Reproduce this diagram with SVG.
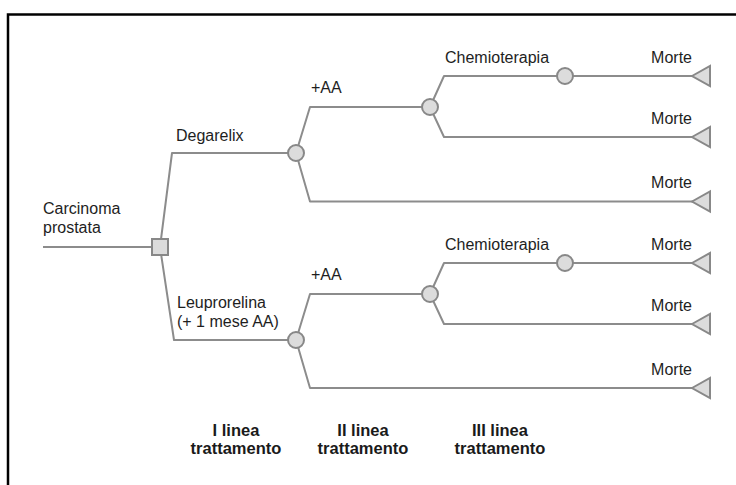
<svg xmlns="http://www.w3.org/2000/svg" width="736" height="485" viewBox="0 0 736 485">
  <style>
    .edge { fill: none; stroke: #8c8c8c; stroke-width: 2; stroke-linejoin: round; }
    .chance { fill: #dcdcdc; stroke: #888; stroke-width: 2; }
    .decision { fill: #dcdcdc; stroke: #888; stroke-width: 2; }
    .terminal { fill: #dcdcdc; stroke: #888; stroke-width: 2; stroke-linejoin: miter; }
    .lbl { font-family: "Liberation Sans", Arial, sans-serif; font-size: 16px; fill: #1e1e1e; }
    .end { text-anchor: end; }
    .axis { font-family: "Liberation Sans", Arial, sans-serif; font-size: 16.5px; font-weight: bold; fill: #1a1a1a; text-anchor: middle; }
  </style>
  <defs>
    <polygon id="tri" class="terminal" points="0,0 18,-10 18,10"/>
  </defs>

  <rect width="736" height="485" fill="#fff"/>
  <!-- frame: only top and left edges fall inside the view -->
  <path d="M8,490 V14.5 H740" fill="none" stroke="#000" stroke-width="2.5"/>

  <!-- connectors -->
  <g id="connectors">
    <path class="edge" d="M43,247 H160"/>
    <!-- Degarelix branch -->
    <path class="edge" d="M160,247 L172,153 H296"/>
    <path class="edge" d="M296,153 L310,107 H430"/>
    <path class="edge" d="M296,153 L310,201.5 H694"/>
    <path class="edge" d="M430,107 L444,76 H694"/>
    <path class="edge" d="M430,107 L444,137 H694"/>
    <!-- Leuprorelina branch -->
    <path class="edge" d="M160,247 L174,340 H296"/>
    <path class="edge" d="M296,340 L310,294 H430"/>
    <path class="edge" d="M296,340 L310,388 H694"/>
    <path class="edge" d="M430,294 L444,263 H694"/>
    <path class="edge" d="M430,294 L444,324 H694"/>
  </g>

  <!-- root -->
  <g id="root">
    <text class="lbl" x="43" y="214">Carcinoma</text>
    <text class="lbl" x="43" y="233">prostata</text>
    <rect class="decision" x="152" y="239" width="16" height="16"/>
  </g>

  <!-- first line: Degarelix -->
  <g id="degarelix">
    <text class="lbl" x="176" y="141">Degarelix</text>
    <circle class="chance" cx="296" cy="153" r="8"/>
  </g>
  <g id="deg-aa">
    <text class="lbl" x="311" y="93">+AA</text>
    <circle class="chance" cx="430" cy="107" r="8"/>
  </g>
  <g id="deg-chemio">
    <text class="lbl" x="445" y="63">Chemioterapia</text>
    <circle class="chance" cx="565" cy="76" r="8"/>
  </g>
  <g id="deg-morte-1">
    <text class="lbl end" x="692" y="63">Morte</text>
    <use href="#tri" x="692" y="76"/>
  </g>
  <g id="deg-morte-2">
    <text class="lbl end" x="692" y="124">Morte</text>
    <use href="#tri" x="692" y="137"/>
  </g>
  <g id="deg-morte-3">
    <text class="lbl end" x="692" y="188">Morte</text>
    <use href="#tri" x="692" y="201.5"/>
  </g>

  <!-- first line: Leuprorelina -->
  <g id="leuprorelina">
    <text class="lbl" x="177" y="308">Leuprorelina</text>
    <text class="lbl" x="177" y="327">(+ 1 mese AA)</text>
    <circle class="chance" cx="296" cy="340" r="8"/>
  </g>
  <g id="leu-aa">
    <text class="lbl" x="311" y="280">+AA</text>
    <circle class="chance" cx="430" cy="294" r="8"/>
  </g>
  <g id="leu-chemio">
    <text class="lbl" x="445" y="250">Chemioterapia</text>
    <circle class="chance" cx="565" cy="263" r="8"/>
  </g>
  <g id="leu-morte-1">
    <text class="lbl end" x="692" y="250">Morte</text>
    <use href="#tri" x="692" y="263"/>
  </g>
  <g id="leu-morte-2">
    <text class="lbl end" x="692" y="311">Morte</text>
    <use href="#tri" x="692" y="324"/>
  </g>
  <g id="leu-morte-3">
    <text class="lbl end" x="692" y="375">Morte</text>
    <use href="#tri" x="692" y="388"/>
  </g>

  <!-- treatment line captions -->
  <g id="captions">
    <text class="axis" x="236" y="436">I linea</text>
    <text class="axis" x="236" y="454">trattamento</text>
    <text class="axis" x="363" y="436">II linea</text>
    <text class="axis" x="363" y="454">trattamento</text>
    <text class="axis" x="500" y="436">III linea</text>
    <text class="axis" x="500" y="454">trattamento</text>
  </g>
</svg>
